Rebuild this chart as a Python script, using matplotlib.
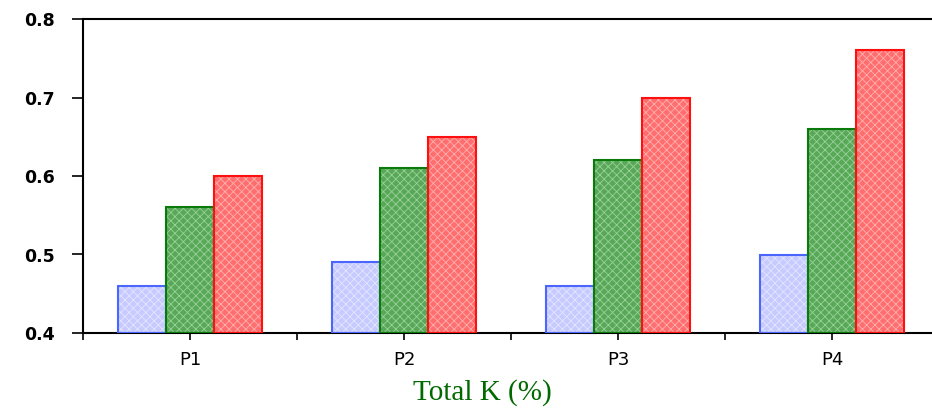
import matplotlib
matplotlib.use("Agg")
import matplotlib.pyplot as plt
import numpy as np

categories = ["P1", "P2", "P3", "P4"]
series1 = [0.46, 0.49, 0.46, 0.50]
series2 = [0.56, 0.61, 0.62, 0.66]
series3 = [0.60, 0.65, 0.70, 0.76]
yticks = [0.4, 0.5, 0.6, 0.7, 0.8]

fills = ["#c6caff", "#58a858", "#ff6e6e"]
hatch_cols = ["#e4e6ff", "#9ad09a", "#ffb0b0"]
edges = ["#4a66ff", "#0a7a0a", "#ff1010"]

plt.rcParams['hatch.linewidth'] = 0.6

fig = plt.figure(figsize=(9.32, 4.13), dpi=100)
ax = fig.add_axes([83/932, 80/413, 856/932, 314/413])

x = np.arange(len(categories))
w = 0.224
for i, vals in enumerate([series1, series2, series3]):
    pos = x + (i - 1) * w
    h = [v - 0.4 for v in vals]
    ax.bar(pos, h, width=w, bottom=0.4, color=fills[i], edgecolor=hatch_cols[i],
           hatch="xxxx", linewidth=0, zorder=2)
    ax.bar(pos, h, width=w, bottom=0.4, fill=False, edgecolor=edges[i],
           linewidth=1.5, zorder=3)

ax.set_xlim(-0.5, 3.5)
ax.set_ylim(0.4, 0.8)
ax.set_yticks(yticks)
ax.set_yticklabels([f"{t:.1f}" for t in yticks], fontfamily="DejaVu Sans",
                   fontsize=12.5, fontweight="semibold")
ax.set_xticks(x)
ax.set_xticklabels(categories, fontfamily="DejaVu Sans", fontsize=13)
ax.set_xticks(np.arange(-0.5, 4.0, 1.0), minor=True)
ax.tick_params(axis='y', direction='out', length=8, width=1.2, pad=12)
ax.tick_params(axis='x', which='both', direction='out', length=5, width=1.2, pad=8)
for s in ['left', 'bottom', 'top']:
    ax.spines[s].set_linewidth(1.5)
ax.spines['right'].set_visible(False)

ax.set_xlabel("Total K (%)", fontfamily="Liberation Serif", fontsize=21, color="#006a00")
ax.xaxis.set_label_coords((482 - 83) / 856, -0.191)
ax.xaxis.label.set_va('center')

fig.savefig("out.png", dpi=100)
